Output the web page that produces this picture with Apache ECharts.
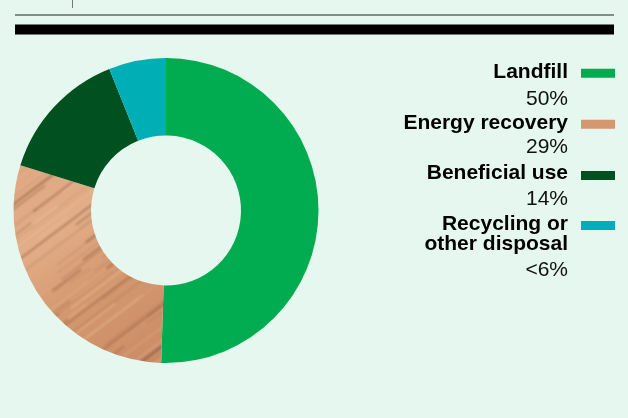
<!DOCTYPE html>
<html><head><meta charset="utf-8">
<script src="https://cdn.jsdelivr.net/npm/echarts@6/dist/echarts.min.js"></script>
<style>html,body{margin:0;padding:0;background:#e5f7ee;}#c{width:628px;height:418px;}</style>
</head><body><div id="c"></div>
<script>
const categories = ['Landfill', 'Energy recovery', 'Beneficial use', 'Recycling or\nother disposal'];
const values = [50, 29, 14, 6];
const valueLabels = ['50%', '29%', '14%', '<6%'];
const colors = ['#00ac4f', 'wood', '#005020', '#00afb5'];

function woodPattern() {
  const W = 640, H = 420;
  const c = document.createElement('canvas');
  c.width = W; c.height = H;
  const g = c.getContext('2d');
  const grd = g.createLinearGradient(20, 170, 150, 365);
  grd.addColorStop(0, '#dea882');
  grd.addColorStop(0.3, '#e2ae88');
  grd.addColorStop(0.6, '#d49870');
  grd.addColorStop(1, '#cb8c66');
  g.fillStyle = grd; g.fillRect(0, 0, W, H);
  let seed = 11;
  const rnd = () => { seed = (seed * 16807) % 2147483647; return (seed - 1) / 2147483646; };
  g.filter = 'blur(0.8px)';
  for (let k = 0; k < 140; k++) {
    const x0 = rnd() * 260 - 40;
    const y0 = 150 + rnd() * 260;
    const dark = rnd() < 0.62;
    const a = 0.08 + rnd() * 0.28;
    g.strokeStyle = dark ? 'rgba(105,58,34,' + a + ')' : 'rgba(245,200,165,' + a + ')';
    g.lineWidth = 0.6 + rnd() * 2.2;
    const len = 30 + rnd() * 160;
    g.beginPath();
    g.moveTo(x0, y0);
    g.lineTo(x0 + len * 0.8, y0 - len * 0.6);
    g.stroke();
  }
  g.filter = 'none';
  return {image: c, repeat: 'no-repeat'};
}
const wood = woodPattern();
const fill = colors.map(c => c === 'wood' ? wood : c);

const chart = echarts.init(document.getElementById('c'), null, {renderer: 'canvas'});

const legendY = [72, 123, 173, 234];
const pctY = [99.5, 147, 199, 270];
const swatchY = [73.3, 124.3, 175.5, 225.5];
const swatchFill = ['#00ac4f', '#d4976f', '#005020', '#00afb5'];
const graphics = [
  {type: 'rect', shape: {x: 72, y: 0, width: 1, height: 8}, style: {fill: '#777'}, silent: true},
  {type: 'rect', shape: {x: 15, y: 14.5, width: 599, height: 1}, style: {fill: '#222'}, silent: true},
  {type: 'rect', shape: {x: 15, y: 24.5, width: 599, height: 10}, style: {fill: '#000'}, silent: true}
];
categories.forEach((name, i) => {
  graphics.push({type: 'text', x: 568, y: legendY[i], style: {
    text: name, fill: '#000', font: 'bold 21px "Liberation Sans", Arial, sans-serif',
    align: 'right', verticalAlign: 'middle', lineHeight: 20
  }, silent: true});
  graphics.push({type: 'text', x: 568, y: pctY[i], style: {
    text: valueLabels[i], fill: '#111', font: '21px "Liberation Sans", Arial, sans-serif',
    align: 'right', verticalAlign: 'middle'
  }, silent: true});
  graphics.push({type: 'rect', shape: {x: 581, y: swatchY[i] - 4.5, width: 34, height: 9}, style: {fill: swatchFill[i]}, silent: true});
});

chart.setOption({
  backgroundColor: '#e5f7ee',
  animation: false,
  series: [{
    type: 'pie',
    center: [166, 210.5],
    radius: [75, 152.5],
    startAngle: 90,
    clockwise: true,
    label: {show: false},
    labelLine: {show: false},
    emphasis: {disabled: true},
    itemStyle: {borderWidth: 0},
    data: categories.map((n, i) => ({name: n, value: values[i], itemStyle: {color: fill[i]}}))
  }],
  graphic: graphics
});
</script></body></html>
